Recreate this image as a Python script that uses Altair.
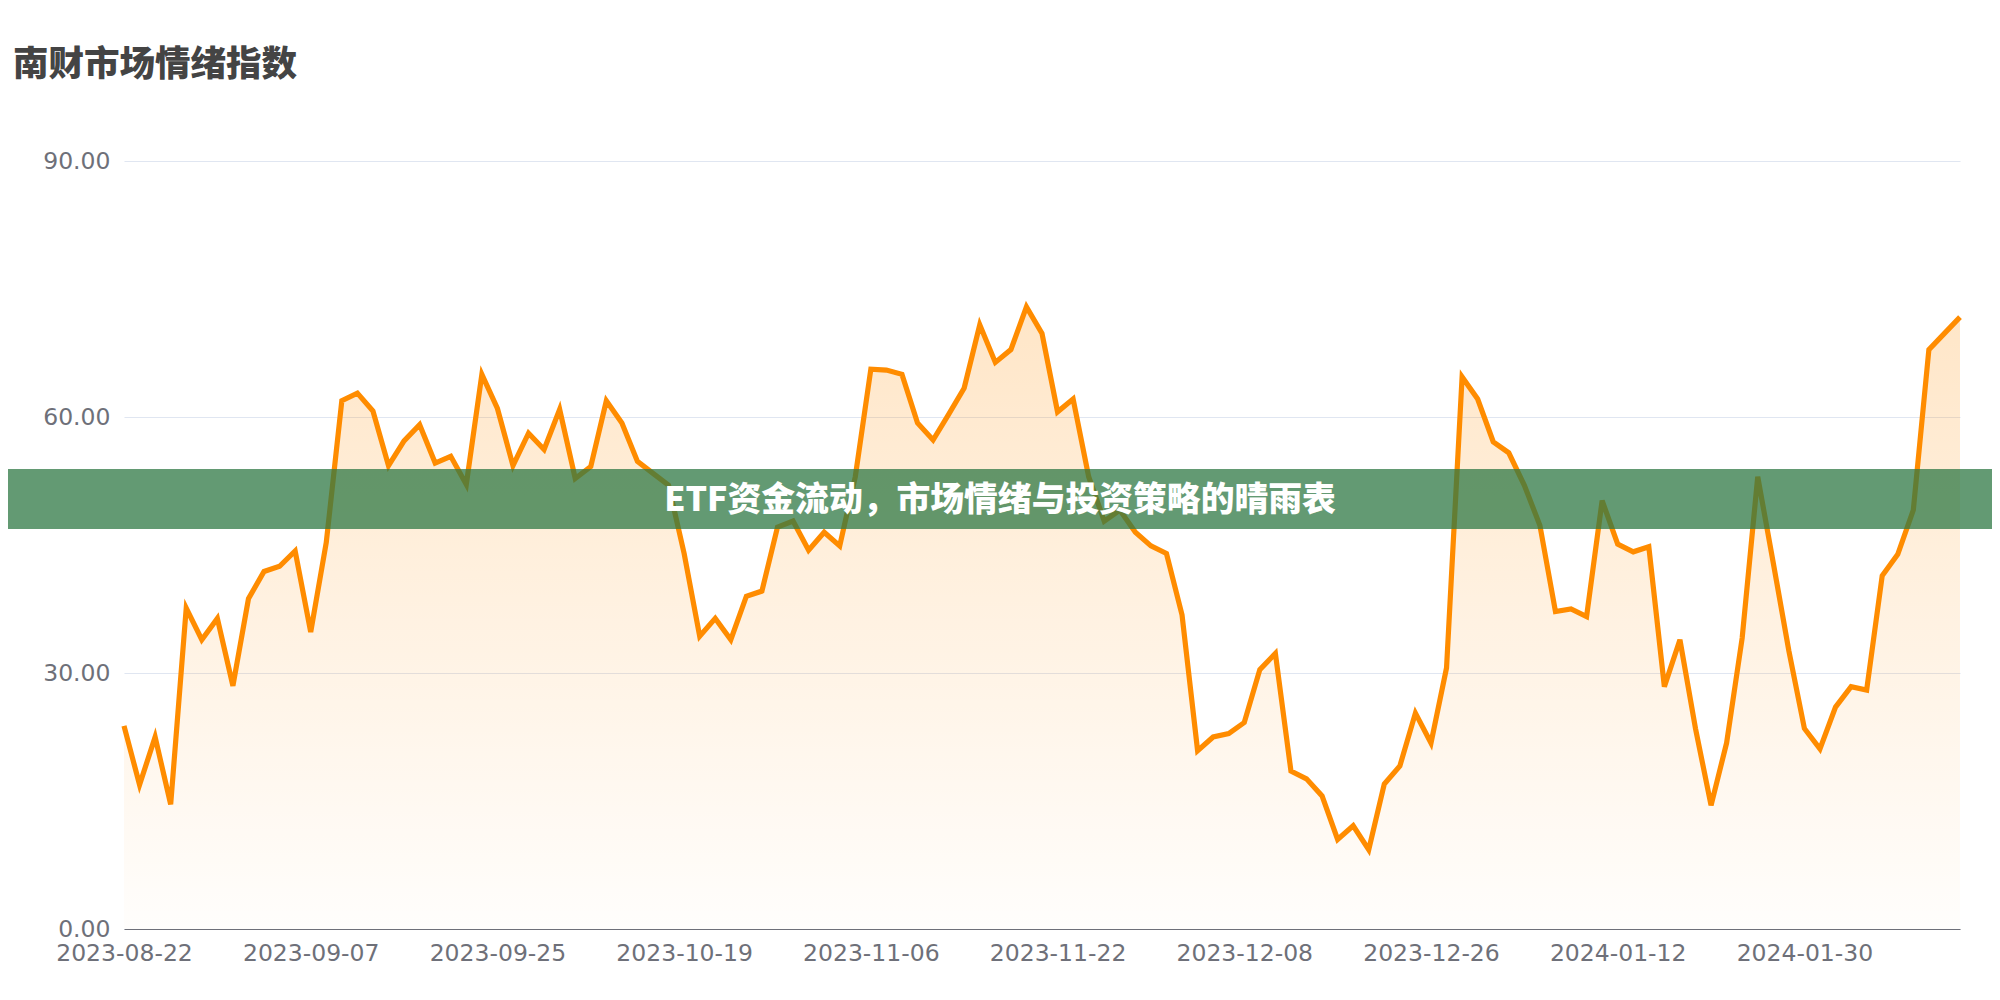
import altair as alt
import pandas as pd

title_text = "南财市场情绪指数"
banner_text = "ETF资金流动，市场情绪与投资策略的晴雨表"

dates = [
    "2023-08-22", "2023-08-23", "2023-08-24", "2023-08-25", "2023-08-28", "2023-08-29", "2023-08-30", "2023-08-31",
    "2023-09-01", "2023-09-04", "2023-09-05", "2023-09-06", "2023-09-07", "2023-09-08", "2023-09-11", "2023-09-12",
    "2023-09-13", "2023-09-14", "2023-09-15", "2023-09-18", "2023-09-19", "2023-09-20", "2023-09-21", "2023-09-22",
    "2023-09-25", "2023-09-26", "2023-09-27", "2023-09-28", "2023-10-09", "2023-10-10", "2023-10-11", "2023-10-12",
    "2023-10-13", "2023-10-16", "2023-10-17", "2023-10-18", "2023-10-19", "2023-10-20", "2023-10-23", "2023-10-24",
    "2023-10-25", "2023-10-26", "2023-10-27", "2023-10-30", "2023-10-31", "2023-11-01", "2023-11-02", "2023-11-03",
    "2023-11-06", "2023-11-07", "2023-11-08", "2023-11-09", "2023-11-10", "2023-11-13", "2023-11-14", "2023-11-15",
    "2023-11-16", "2023-11-17", "2023-11-20", "2023-11-21", "2023-11-22", "2023-11-23", "2023-11-24", "2023-11-27",
    "2023-11-28", "2023-11-29", "2023-11-30", "2023-12-01", "2023-12-04", "2023-12-05", "2023-12-06", "2023-12-07",
    "2023-12-08", "2023-12-11", "2023-12-12", "2023-12-13", "2023-12-14", "2023-12-15", "2023-12-18", "2023-12-19",
    "2023-12-20", "2023-12-21", "2023-12-22", "2023-12-25", "2023-12-26", "2023-12-27", "2023-12-28", "2023-12-29",
    "2024-01-02", "2024-01-03", "2024-01-04", "2024-01-05", "2024-01-08", "2024-01-09", "2024-01-10", "2024-01-11",
    "2024-01-12", "2024-01-15", "2024-01-16", "2024-01-17", "2024-01-18", "2024-01-19", "2024-01-22", "2024-01-23",
    "2024-01-24", "2024-01-25", "2024-01-26", "2024-01-29", "2024-01-30", "2024-01-31", "2024-02-01", "2024-02-02",
    "2024-02-05", "2024-02-06", "2024-02-07", "2024-02-08", "2024-02-19", "2024-02-20", "2024-02-21",
]

values = [
    23.8, 16.9, 22.5, 14.6, 37.6, 33.9, 36.4, 28.5, 38.7, 41.9, 42.5, 44.3, 34.8, 45.3, 61.9, 62.8, 60.7, 54.3, 57.2, 59.1,
    54.6, 55.4, 52.1, 65.0, 61.0, 54.3, 58.1, 56.2, 60.9, 52.8,
    54.2, 61.9, 59.3, 54.8, 53.4, 52.0, 44.0, 34.3, 36.4, 33.9, 39.0, 39.6, 47.1, 47.8, 44.4, 46.5, 44.9, 53.0, 65.6, 65.5,
    65.0, 59.3, 57.3, 60.3, 63.4, 70.8, 66.4, 67.9, 72.9, 69.8, 60.6, 62.1, 53.0, 47.8, 49.1, 46.5, 44.9, 44.0, 36.8, 20.9,
    22.5, 22.9, 24.2, 30.4, 32.3, 18.5, 17.6, 15.6, 10.5, 12.1, 9.3, 17.0, 19.1, 25.3, 21.8, 30.6, 64.7, 62.1, 57.1, 55.8,
    52.0, 47.3, 37.2, 37.5, 36.6, 50.2, 45.1, 44.2, 44.8, 28.4, 33.9, 23.5, 14.5, 21.8, 34.1, 53.0, 42.9, 32.6, 23.5, 21.1,
    26.0, 28.4, 28.0, 41.4, 43.9, 49.1, 67.9, 69.8, 71.7,
]

label_dates = ["2023-08-22", "2023-09-07", "2023-09-25", "2023-10-19", "2023-11-06",
               "2023-11-22", "2023-12-08", "2023-12-26", "2024-01-12", "2024-01-30"]
y_ticks = [0, 30, 60, 90]

df = pd.DataFrame({"date": dates, "value": values})

W, H = 1836, 768

x_enc = alt.X(
    "date:O",
    sort=dates,
    scale=alt.Scale(type="point", padding=0),
    axis=alt.Axis(
        values=label_dates, labelAngle=0, ticks=False, grid=False, title=None,
        domainColor="#6E7079", domainWidth=1.2, labelColor="#6E7079",
        labelFont="DejaVu Sans", labelFontSize=23.5, labelPadding=12,
        labelOverlap=False,
    ),
)
y_enc = alt.Y(
    "value:Q",
    scale=alt.Scale(domain=[0, 90], nice=False, zero=True),
    axis=alt.Axis(
        values=y_ticks, format=".2f", title=None, domain=False, ticks=False,
        grid=True, gridColor="#E0E6F1", gridWidth=1.2,
        labelColor="#6E7079", labelFont="DejaVu Sans", labelFontSize=23.5,
        labelPadding=14,
    ),
)

area = alt.Chart(df).mark_area(
    fill=alt.Gradient(
        gradient="linear",
        stops=[
            alt.GradientStop(color="rgba(255,140,0,0.22)", offset=0),
            alt.GradientStop(color="rgba(255,140,0,0.01)", offset=1),
        ],
        x1=1, x2=1, y1=0, y2=1,
    ),
).encode(x=x_enc, y=y_enc)

line = alt.Chart(df).mark_line(color="#FF8C00", strokeWidth=5.2).encode(x=x_enc, y=y_enc)

one = pd.DataFrame({"t": [title_text], "b": [banner_text]})

title_mark = alt.Chart(one).mark_text(
    align="left", baseline="middle", font="Noto Sans CJK SC", fontSize=35.5,
    fontWeight=900, color="#444444",
).encode(x=alt.value(-111), y=alt.value(-96), text="t:N")

banner = alt.Chart(one).mark_rect(color="rgb(47,120,68)", opacity=0.75).encode(
    x=alt.value(-116), x2=alt.value(W + 32), y=alt.value(308), y2=alt.value(368)
)

banner_label = alt.Chart(one).mark_text(
    align="center", baseline="middle", font="Noto Sans CJK SC", fontSize=33.8,
    fontWeight=900, color="#FFFFFF",
).encode(x=alt.value(876), y=alt.value(340), text="b:N")

chart = alt.layer(area, line, banner, banner_label, title_mark).properties(
    width=W, height=H,
    autosize=alt.AutoSizeParams(type="none"),
    padding={"left": 116, "top": 153, "right": 32, "bottom": 60},
    background="#FFFFFF",
).configure_view(strokeWidth=0)

chart.save("out.html", embed_options={"renderer": "svg", "actions": False})
